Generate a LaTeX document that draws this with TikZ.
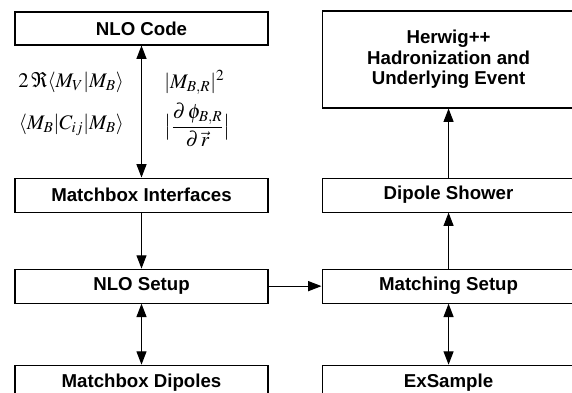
\documentclass[tikz,border=0pt]{standalone}
\usepackage{amsmath}
\usepackage{mathptmx}
\usepackage[no-math]{fontspec}
\setsansfont{Liberation Sans}
\usepackage{tikz}
\usetikzlibrary{arrows.meta, positioning}
\tikzstyle{block} = [rectangle, line width=0.8pt, minimum width=189.75pt, minimum height=25.5pt, text centered, align=center, draw=black, font=\sffamily\bfseries\fontsize{14}{15.5}\selectfont]
\tikzstyle{arrow} = [line width=0.8pt, -{Triangle[length=10pt,width=7.5pt]}]
\tikzstyle{twoway} = [line width=0.8pt, {Triangle[length=10pt,width=7.5pt]}-{Triangle[length=10pt,width=7.5pt]}]
\tikzstyle{amplitude} = [inner sep=2pt, font=\fontsize{15.5}{18}\selectfont]
\begin{document}
\begin{tikzpicture}[x=0.75pt, y=-0.75pt]
		\useasboundingbox (0,0) rectangle (572,393);
		\clip (0,0) rectangle (572,393);
		\node (NLOCode) [block, minimum height=24.75pt] at (141.5,28.5) {NLO Code};
		\node (MatchboxInterfaces) [block, below = 99pt of NLOCode] {Matchbox Interfaces};
		\node (NLOSetup) [block, below = 42pt of MatchboxInterfaces] {NLO Setup};
		\node (MatchboxDipoles) [block, below = 45.75pt of NLOSetup] {Matchbox Dipoles};
		\node (DipoleShower) [block, right = 39.75pt of MatchboxInterfaces] {Dipole Shower};
		\node (MatchingSetup) [block, right = 39.75pt of NLOSetup] {Matching Setup};
		\node (ExSample) [block, right = 39.75pt of MatchboxDipoles] {ExSample};
		\node (Herwig) [block, minimum height=72.75pt, above = 51.75pt of DipoleShower] {Herwig++\\Hadronization and\\Underlying Event};
		\path (NLOCode.south) -- (MatchboxInterfaces.north) coordinate[pos=0.28] (Upper) coordinate[pos=0.6] (Lower);
		\node (Virtual) [amplitude, left = 11pt of Upper] {$2\,\Re\langle M_{V}|M_{B}\rangle$};
		\node (ColourCorrelated) [amplitude, left = 11pt of Lower] {$\langle M_{B}|C_{ij}|M_{B}\rangle$};
		\node (Squared) [amplitude, right = 15pt of Upper] {$|M_{B,R}|^{2}$};
		\node (Jacobian) [amplitude, right = 15pt of Lower, anchor=west] {$\bigl|\dfrac{\partial\,\phi_{B,R}}{\partial\,\vec{r}}\bigr|$};
		\draw [twoway] (NLOCode) -- (MatchboxInterfaces);
		\draw [arrow] (MatchboxInterfaces) -- (NLOSetup);
		\draw [twoway] (NLOSetup) -- (MatchboxDipoles);
		\draw [arrow] (NLOSetup) -- (MatchingSetup);
		\draw [arrow] (MatchingSetup) -- (DipoleShower);
		\draw [arrow] (DipoleShower) -- (Herwig);
		\draw [twoway] (MatchingSetup) -- (ExSample);
\end{tikzpicture}
\end{document}
